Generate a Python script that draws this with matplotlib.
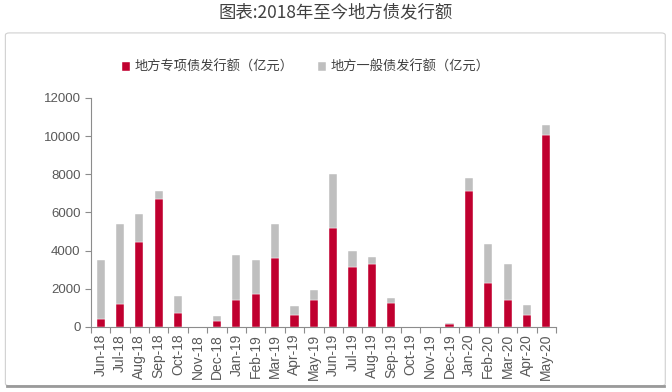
import matplotlib.pyplot as plt
import numpy as np
from matplotlib.patches import FancyBboxPatch

plt.rcParams['font.family'] = ['Noto Sans CJK SC', 'DejaVu Sans']

months = ["Jun-18", "Jul-18", "Aug-18", "Sep-18", "Oct-18", "Nov-18", "Dec-18",
          "Jan-19", "Feb-19", "Mar-19", "Apr-19", "May-19", "Jun-19", "Jul-19",
          "Aug-19", "Sep-19", "Oct-19", "Nov-19", "Dec-19", "Jan-20", "Feb-20",
          "Mar-20", "Apr-20", "May-20"]
# 地方专项债 (亿元)
special = [400, 1200, 4450, 6700, 750, 0, 300, 1400, 1700, 3600, 650, 1400,
           5200, 3150, 3300, 1250, 0, 0, 150, 7100, 2300, 1400, 650, 10050]
# 地方一般债 (亿元)
general = [3100, 4200, 1450, 400, 850, 0, 250, 2350, 1800, 1800, 450, 550,
           2800, 850, 350, 250, 0, 0, 50, 700, 2050, 1900, 500, 550]

red = "#c0002f"
grey = "#bfbfbf"
axis_col = "#8c8c8c"
text_col = "#595959"

fig = plt.figure(figsize=(6.72, 3.92), dpi=100)

# card background with border
card = FancyBboxPatch((0.008, 0.016), 0.982, 0.9, boxstyle="round,pad=0,rounding_size=0.006",
                      transform=fig.transFigure, facecolor="white", edgecolor="#d0d0d0",
                      linewidth=0.8, zorder=-5)
fig.patches.append(card)
fig.add_artist(plt.Line2D([0.01, 0.988], [0.016, 0.016], transform=fig.transFigure,
                          color="#9a9a9a", linewidth=2.0, zorder=-4))

fig.text(0.5, 0.968, "图表:2018年至今地方债发行额", ha="center", va="center",
         fontsize=12.5, color="#404040")

ax = fig.add_axes([0.1354, 0.166, 0.692, 0.584])
ax.set_facecolor("none")
x = np.arange(len(months))
ax.bar(x, special, width=0.42, color=red, edgecolor="white", linewidth=0.3,
       label="地方专项债发行额（亿元）", zorder=2)
ax.bar(x, general, width=0.42, bottom=special, color=grey, edgecolor="white",
       linewidth=0.3, label="地方一般债发行额（亿元）", zorder=2)

ax.set_xlim(-0.5, len(months) - 0.5)
ax.set_ylim(0, 12000)
ax.set_yticks(np.arange(0, 12001, 2000))
ax.tick_params(axis="y", colors=axis_col, labelcolor=text_col, labelsize=9.5,
               length=4, width=0.8, direction="out")
for lab in ax.get_yticklabels():
    lab.set_family(["Liberation Sans", "DejaVu Sans"])

ax.set_xticks(x)
ax.set_xticklabels(months, rotation=90, fontsize=10,
                   family=["Liberation Sans", "DejaVu Sans"], color=text_col)
ax.set_xticks(np.arange(-0.5, len(months)), minor=True)
ax.tick_params(axis="x", which="major", length=0, pad=5)
ax.tick_params(axis="x", which="minor", length=4, width=0.8, colors=axis_col)

for side in ["top", "right"]:
    ax.spines[side].set_visible(False)
for side in ["left", "bottom"]:
    ax.spines[side].set_color(axis_col)
    ax.spines[side].set_linewidth(0.8)

leg = fig.legend(loc="center", bbox_to_anchor=(0.455, 0.828), ncol=2, frameon=False,
                 fontsize=9.5, handlelength=0.6, handleheight=0.6, handletextpad=0.3,
                 columnspacing=1.9)
for t in leg.get_texts():
    t.set_color("#404040")

fig.savefig("out.png", dpi=100, facecolor="white")
